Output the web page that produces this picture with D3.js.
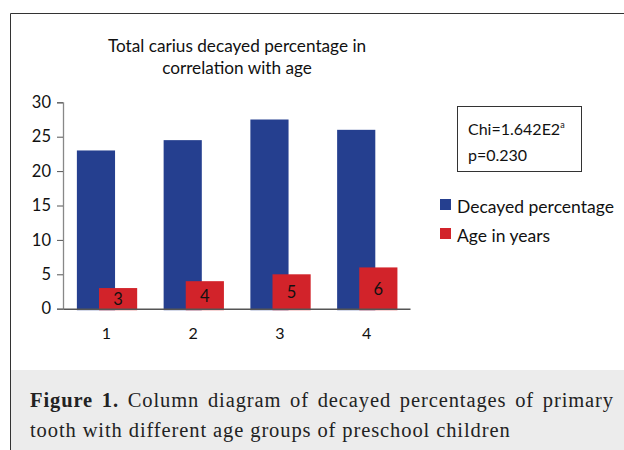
<!DOCTYPE html>
<html lang="en">
<head>
<meta charset="UTF-8">
<script src="https://d3js.org/d3.v7.min.js"></script>
<title>Total carius decayed percentage</title>
<style>
  * { padding: 0; margin: 0; }
  body { background: #fff; width: 624px; height: 450px; overflow: hidden; }
  svg { display: block; }
</style>
</head>
<body>
<svg id="chart" width="624" height="450"></svg>
<script>
// data
const ages = ['1', '2', '3', '4'];
const decayed = [23, 24.5, 27.5, 26];
const ageYears = [3, 4, 5, 6];
const yTicks = [0, 5, 10, 15, 20, 25, 30];
const legendLabels = ['Decayed percentage', 'Age in years'];
const colors = ['#253f8f', '#d2232a'];

const svg = d3.select('#chart');
const font = 'Lato, "Noto Sans", sans-serif';
const serif = '"Liberation Serif", "DejaVu Serif", serif';

// caption panel
svg.append('rect')
  .attr('x', 11).attr('y', 370).attr('width', 613).attr('height', 80)
  .attr('fill', '#ececec');

// frame
svg.append('path')
  .attr('d', 'M10.5,450 V13.5 H624')
  .attr('fill', 'none')
  .attr('stroke', '#333')
  .attr('stroke-width', 1);

// title
const title = svg.append('text')
  .attr('text-anchor', 'middle')
  .attr('font-family', font)
  .attr('font-size', 17.2)
  .attr('fill', '#111');
title.append('tspan').attr('x', 237).attr('y', 52).text('Total carius decayed percentage in');
title.append('tspan').attr('x', 237).attr('y', 74).text('correlation with age');

const x = d3.scaleBand().domain(ages).range([63, 410]);
const y = d3.scaleLinear().domain([0, 30]).range([308.7, 102.3]);
const bw = x.bandwidth();

// bars
svg.append('g').selectAll('rect')
  .data(decayed)
  .enter()
  .append('rect')
  .attr('x', (d, i) => x(ages[i]) + bw * 0.16)
  .attr('width', bw * 0.44)
  .attr('y', d => y(d))
  .attr('height', d => y(0) - y(d) + 1.5)
  .attr('fill', colors[0]);

svg.append('g').selectAll('rect')
  .data(ageYears)
  .enter()
  .append('rect')
  .attr('x', (d, i) => x(ages[i]) + bw * 0.415)
  .attr('width', bw * 0.44)
  .attr('y', d => y(d))
  .attr('height', d => y(0) - y(d) + 1.5)
  .attr('fill', colors[1]);

svg.append('g').selectAll('text')
  .data(ageYears)
  .enter()
  .append('text')
  .attr('x', (d, i) => x(ages[i]) + bw * 0.635)
  .attr('y', d => (y(d) + y(0)) / 2 + 1)
  .attr('dy', '0.35em')
  .attr('text-anchor', 'middle')
  .attr('font-family', font)
  .attr('font-size', 16.5)
  .attr('fill', '#111')
  .text(d => d);

// y axis
const yAxis = svg.append('g')
  .attr('transform', 'translate(63,0)')
  .call(d3.axisLeft(y).tickValues(yTicks).tickSize(6).tickPadding(6));
yAxis.select('.domain').attr('stroke', '#888').attr('stroke-width', 1.3);
yAxis.selectAll('.tick line').attr('stroke', '#555');
yAxis.selectAll('.tick text')
  .attr('font-family', font).attr('font-size', 16.5).attr('fill', '#111');

// x axis
const xAxis = svg.append('g')
  .attr('transform', 'translate(0,' + y(0) + ')')
  .call(d3.axisBottom(x).tickSize(0).tickPadding(19));
xAxis.select('.domain').attr('stroke', '#555').attr('stroke-width', 1.5);
xAxis.selectAll('.tick text')
  .attr('font-family', font).attr('font-size', 16).attr('fill', '#111');

// stats box
svg.append('rect')
  .attr('x', 457.5).attr('y', 106.5).attr('width', 124).attr('height', 65)
  .attr('fill', '#fff').attr('stroke', '#333').attr('stroke-width', 1);
const chi = svg.append('text')
  .attr('x', 468).attr('y', 135)
  .attr('font-family', font).attr('font-size', 16).attr('fill', '#111');
chi.append('tspan').text('Chi=1.642E2');
chi.append('tspan').attr('font-size', 9).attr('dy', -7).text('a');
svg.append('text')
  .attr('x', 468).attr('y', 161)
  .attr('font-family', font).attr('font-size', 16).attr('fill', '#111')
  .text('p=0.230');

// legend
const legend = svg.append('g')
  .selectAll('g')
  .data(legendLabels)
  .enter()
  .append('g')
  .attr('transform', (d, i) => 'translate(440,' + (199 + i * 29) + ')');
legend.append('rect')
  .attr('width', 11).attr('height', 11)
  .attr('fill', (d, i) => colors[i]);
legend.append('text')
  .attr('x', 17).attr('y', 13.5)
  .attr('font-family', font).attr('font-size', 17.5).attr('fill', '#111')
  .text(d => d);

// caption
const cap1 = svg.append('text')
  .attr('x', 30).attr('y', 407)
  .attr('font-family', serif)
  .attr('font-size', 20.5).attr('letter-spacing', 0.9).attr('fill', '#222');
cap1.append('tspan').attr('font-weight', 'bold').text('Figure 1.');
cap1.append('tspan').text(' Column diagram of decayed percentages of primary');
const cap2 = svg.append('text')
  .attr('x', 30).attr('y', 437)
  .attr('font-family', serif)
  .attr('font-size', 20.5).attr('letter-spacing', 0.9).attr('fill', '#222')
  .text('tooth with different age groups of preschool children');

// justify the first caption line to the panel width
const target = 614 - 30;
let ws = 0;
for (let k = 0; k < 6; k++) {
  const w = cap1.node().getBBox().width;
  ws += (target - w) / 8;
  cap1.attr('word-spacing', ws);
}
</script>
</body>
</html>
